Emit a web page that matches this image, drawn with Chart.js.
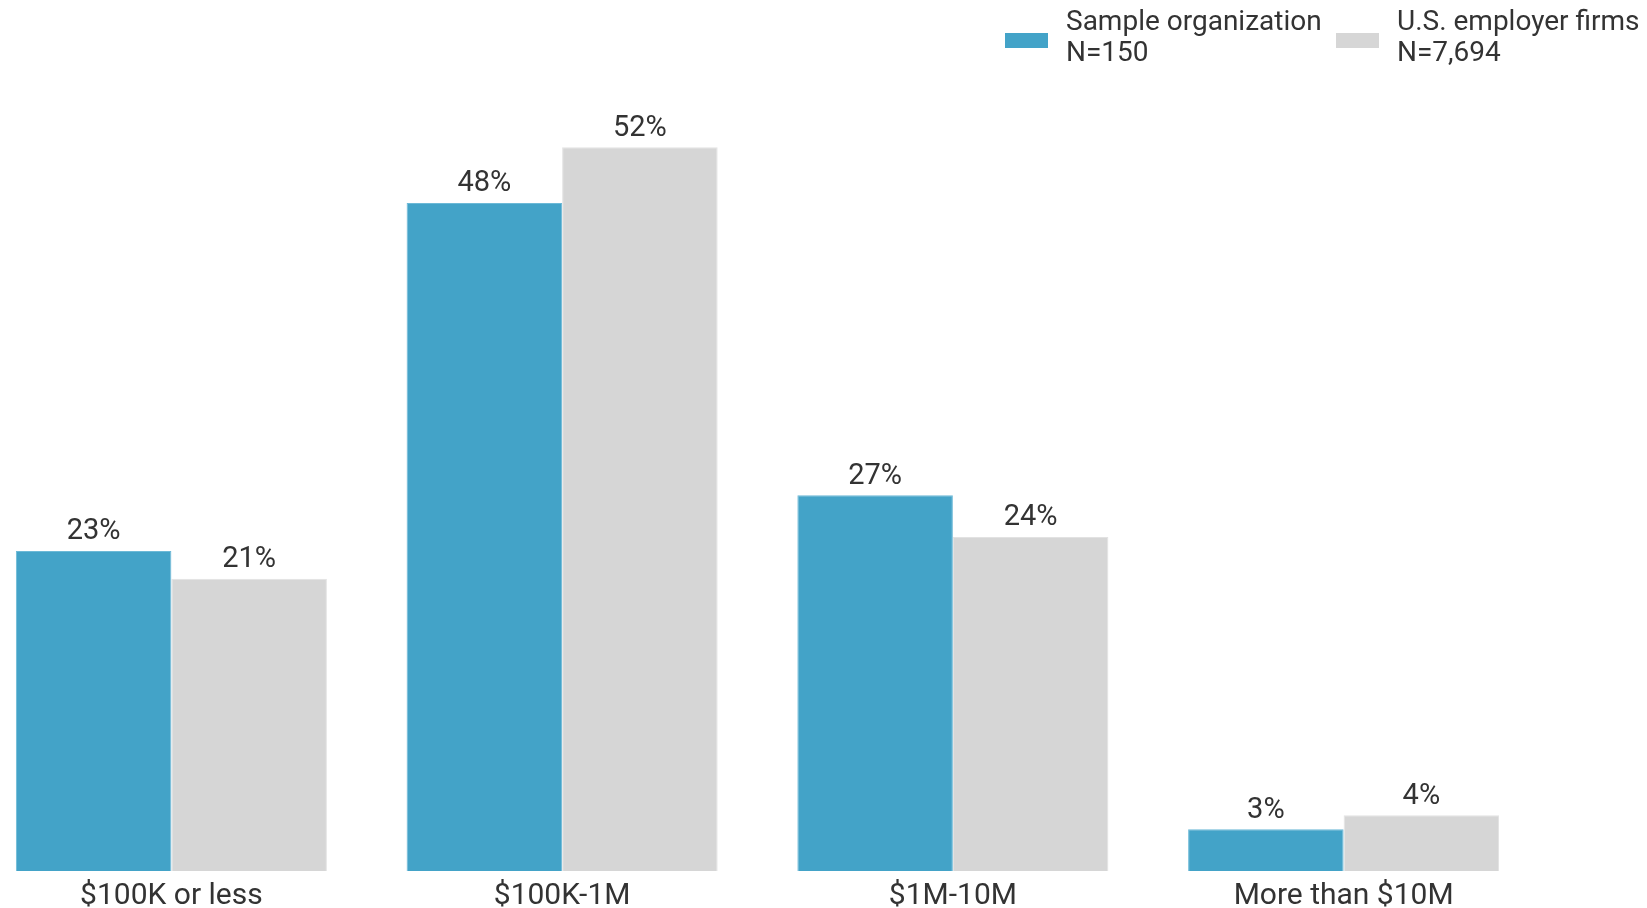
<!DOCTYPE html>
<html lang="en">
	<head>
		<meta charset="UTF-8" />
		<title>Revenue size of sample vs U.S. employer firms</title>
		<script src="https://cdn.jsdelivr.net/npm/chart.js"></script>
		<style>
			body {
				margin: 0;
				width: 1647px;
				height: 908px;
				overflow: hidden;
				background: #fff;
				font-family: Roboto, Arial, sans-serif;
				position: relative;
			}
			#chart-container {
				position: absolute;
				left: -24px;
				top: 0;
				width: 1563px;
				height: 908px;
			}
			.legend-box {
				position: absolute;
				width: 43px;
				height: 15px;
			}
			.legend-text {
				position: absolute;
				font-size: 28px;
				line-height: 31px;
				color: #333;
				white-space: nowrap;
			}
		</style>
	</head>
	<body>
		<div id="chart-container">
			<canvas id="barChart"></canvas>
		</div>

		<div class="legend-box" style="left: 1005px; top: 33px; background: #43a3c8"></div>
		<div class="legend-text" style="left: 1066px; top: 5px">Sample organization<br />N=150</div>
		<div class="legend-box" style="left: 1336px; top: 33px; background: #d6d6d6"></div>
		<div class="legend-text" style="left: 1397px; top: 5px">U.S. employer firms<br />N=7,694</div>

		<script>
			const categories = ["$100K or less", "$100K-1M", "$1M-10M", "More than $10M"];
			const sampleValues = [23, 48, 27, 3];
			const usFirmValues = [21, 52, 24, 4];

			// Prozentwerte über den Balken
			const valueLabels = {
				id: "valueLabels",
				afterDatasetsDraw(chart) {
					const ctx = chart.ctx;
					ctx.save();
					ctx.font = "29px Roboto";
					ctx.fillStyle = "#333";
					ctx.textAlign = "center";
					ctx.textBaseline = "middle";
					chart.data.datasets.forEach((ds, i) => {
						chart.getDatasetMeta(i).data.forEach((bar, j) => {
							ctx.fillText(ds.data[j] + "%", bar.x, bar.y - 19);
						});
					});
					ctx.restore();
				},
			};

			new Chart(document.getElementById("barChart"), {
				type: "bar",
				data: {
					labels: categories,
					datasets: [
						{
							label: "Sample organization N=150",
							data: sampleValues,
							backgroundColor: "#43a3c8",
							borderColor: "#6cb9d7",
							borderWidth: 1,
						},
						{
							label: "U.S. employer firms N=7,694",
							data: usFirmValues,
							backgroundColor: "#d6d6d6",
							borderColor: "#e2e2e2",
							borderWidth: 1,
						},
					],
				},
				options: {
					responsive: true,
					maintainAspectRatio: false,
					animation: false,
					layout: { padding: { top: 36, left: 0, right: 0, bottom: 0 } },
					datasets: {
						bar: { categoryPercentage: 0.796, barPercentage: 1.0 },
					},
					scales: {
						x: {
							grid: { display: false, drawTicks: false },
							border: { display: false },
							afterFit(scale) {
								scale.height = 37;
							},
							ticks: {
								color: "#333",
								padding: 9,
								font: { family: "Roboto", size: 30, lineHeight: 1.1 },
							},
						},
						y: {
							display: false,
							min: 0,
							max: 60,
						},
					},
					plugins: {
						legend: { display: false },
						tooltip: { enabled: false },
					},
				},
				plugins: [valueLabels],
			});
		</script>
	</body>
</html>
